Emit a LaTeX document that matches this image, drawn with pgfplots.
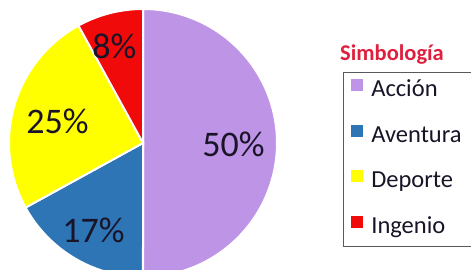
\documentclass[border=0pt]{standalone}
\usepackage{pgfplots}
\usepackage{pgfplotstable}
\pgfplotsset{compat=1.18}
\usepackage{fontspec}
\setmainfont{Carlito}
\definecolor{cA}{RGB}{190,148,230}
\definecolor{cB}{RGB}{46,117,182}
\definecolor{cC}{RGB}{255,255,0}
\definecolor{cD}{RGB}{240,10,10}
\definecolor{ttl}{RGB}{222,32,62}
\definecolor{txt}{RGB}{25,20,40}
\pgfplotstableread{
name value
Accion 50
Aventura 17
Deporte 25
Ingenio 8
}\piedata
\begin{document}
\begin{tikzpicture}
\pgfplotstablegetelem{0}{value}\of\piedata \pgfmathsetmacro\va{\pgfplotsretval}
\pgfplotstablegetelem{1}{value}\of\piedata \pgfmathsetmacro\vb{\pgfplotsretval}
\pgfplotstablegetelem{2}{value}\of\piedata \pgfmathsetmacro\vc{\pgfplotsretval}
\pgfplotstablegetelem{3}{value}\of\piedata \pgfmathsetmacro\vd{\pgfplotsretval}
\pgfmathsetmacro\aZ{90}
\pgfmathsetmacro\aA{\aZ-3.6*\va}
\pgfmathsetmacro\aB{\aA-3.6*\vb}
\pgfmathsetmacro\aC{\aB-3.6*\vc}
\pgfmathsetmacro\aD{\aC-3.6*\vd}
\path[use as bounding box] (0,0) rectangle (471pt,270pt);
\clip (0,0) rectangle (471pt,270pt);
\begin{axis}[
  at={(143pt,127pt)}, anchor=center,
  scale only axis, width=268pt, height=268pt,
  xmin=-1, xmax=1, ymin=-1, ymax=1,
  hide axis, clip=false,
  legend cell align=left,
  legend style={at={(1.246,0.765)}, anchor=north west,
    draw=black!65, line width=0.8pt, font=\fontsize{24.5}{28}\selectfont,
    row sep=22pt, inner xsep=8pt, inner ysep=7pt,
    nodes={inner sep=0pt, text height=16pt, text depth=6pt, text width=135pt, text=txt},
    /tikz/every odd column/.append style={column sep=8pt}},
  legend image code/.code={\path[#1, draw=none] (0pt,0.5pt) rectangle (12pt,12.5pt);},
]
\addplot[fill=cA, draw=white, line width=2pt, domain=\aA:\aZ, samples=120, forget plot] ({cos(x)},{sin(x)}) -- (axis cs:0,0) -- cycle;
\addplot[fill=cB, draw=white, line width=2pt, domain=\aB:\aA, samples=60, forget plot] ({cos(x)},{sin(x)}) -- (axis cs:0,0) -- cycle;
\addplot[fill=cC, draw=white, line width=2pt, domain=\aC:\aB, samples=80, forget plot] ({cos(x)},{sin(x)}) -- (axis cs:0,0) -- cycle;
\addplot[fill=cD, draw=white, line width=2pt, domain=\aD:\aC, samples=40, forget plot] ({cos(x)},{sin(x)}) -- (axis cs:0,0) -- cycle;
\addlegendimage{fill=cA}\addlegendentry{Acción}
\addlegendimage{fill=cB}\addlegendentry{Aventura}
\addlegendimage{fill=cC}\addlegendentry{Deporte}
\addlegendimage{fill=cD}\addlegendentry{Ingenio}
\begin{scope}[every node/.style={inner sep=0pt, text=txt, font=\fontsize{36}{40}\selectfont}]
\node at (axis cs:0.675,-0.011) {50\%};
\node at (axis cs:-0.369,-0.649) {17\%};
\node at (axis cs:-0.638,0.160) {25\%};
\node at (axis cs:-0.213,0.720) {8\%};
\end{scope}
\end{axis}
\node[anchor=base west, inner sep=0pt, text=ttl, font=\bfseries\fontsize{22.5}{25}\selectfont] at (340pt,209pt) {Simbología};
\end{tikzpicture}
\end{document}
